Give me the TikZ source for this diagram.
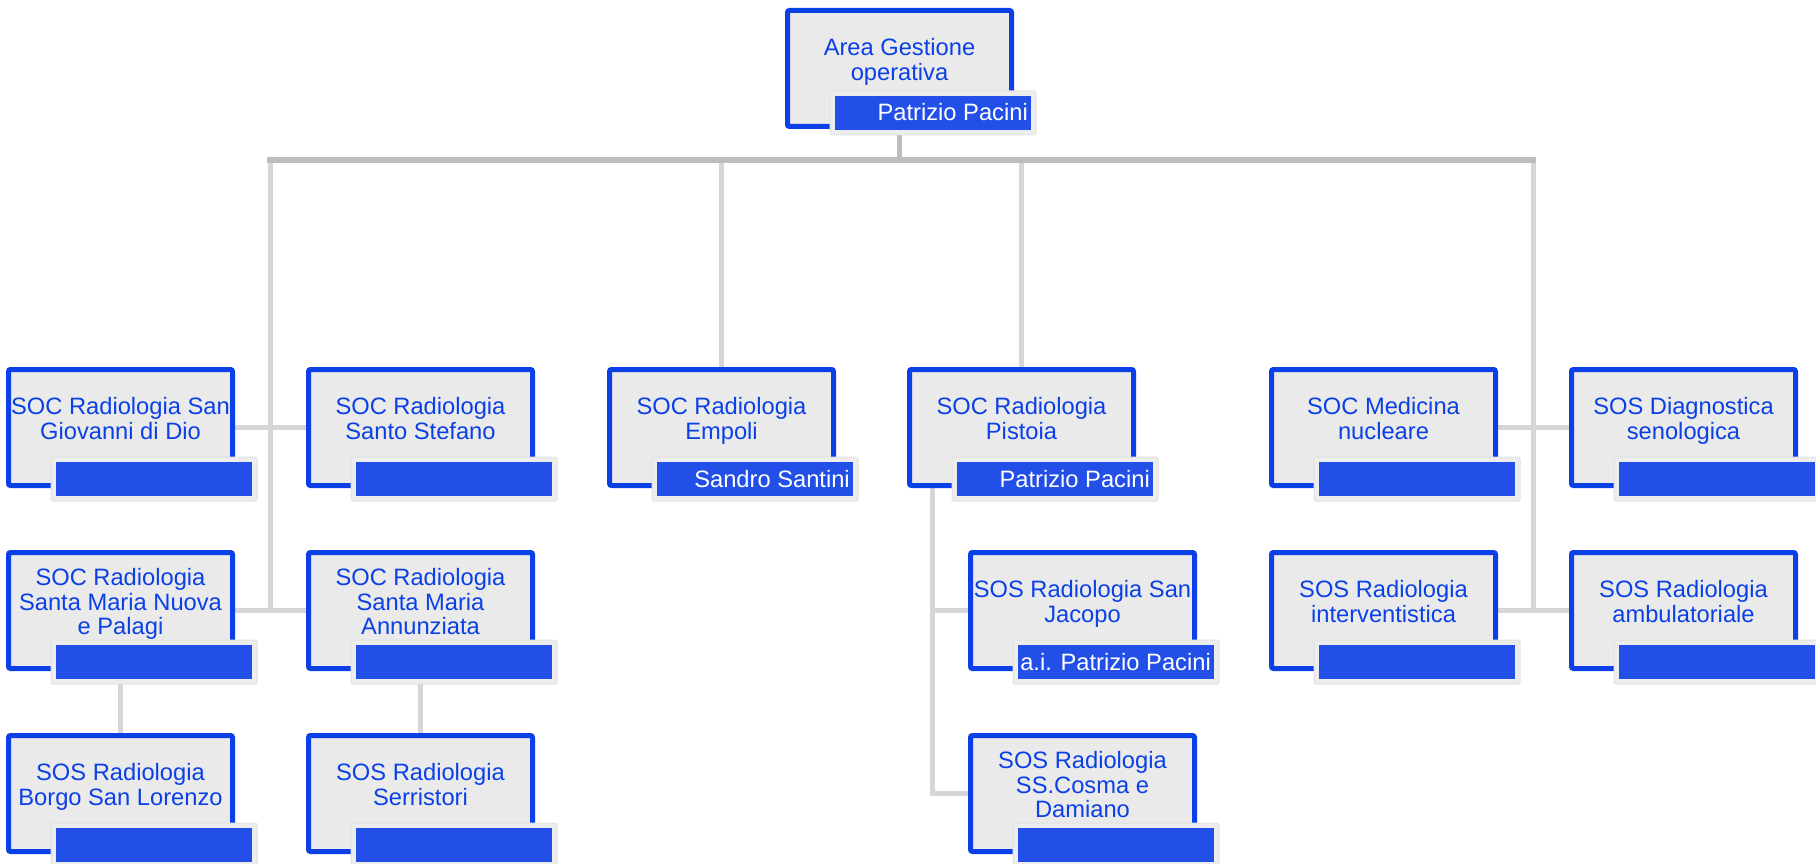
\documentclass[tikz,border=0pt]{standalone}
\usepackage{fontspec}
\setmainfont{Liberation Sans}
\usetikzlibrary{backgrounds,calc}
\definecolor{ublue}{HTML}{0A40E6}
\definecolor{barblue}{HTML}{0036E7}
\definecolor{ufill}{HTML}{EAEAEA}
\definecolor{uframe}{HTML}{EDEDED}
\definecolor{uframeline}{HTML}{E2E2E2}
\definecolor{busgray}{HTML}{BDBDBD}
\definecolor{linkgray}{HTML}{D6D6D6}
\newcommand\ls{\rule[-7pt]{0pt}{24.5pt}}
% name, left, top, text, person, frame offset
\newcommand\orgunit[6]{%
  \node[ubox] (#1) at (#2+114.5,#3+60.5) {};
  \node[utext] (#1-t) at (#2+114.5,#3+54.75) {#4};
  \node[uframebox] (#1-f) at (#2+148,#3+#6+22) {};
  \node[ubar] (#1-b) at (#2+148,#3+#6+22) {};
  \node[uname] (#1-p) at (#2+243,#3+#6+30) {#5};
}
\begin{document}
\begin{tikzpicture}[x=1pt,y=-1pt,
  ubox/.style={draw=ublue, line width=5pt, fill=ufill, rounded corners=2pt,
    minimum width=224pt, minimum height=116pt, inner sep=0pt},
  utext/.style={text=ublue, align=center, font=\fontsize{23.7}{24.5}\selectfont, inner sep=0pt},
  uframebox/.style={fill=uframe, draw=uframeline, line width=1pt, rounded corners=2pt,
    minimum width=206pt, minimum height=44pt, inner sep=0pt},
  ubar/.style={fill=barblue, fill opacity=0.86, minimum width=196pt, minimum height=34pt, inner sep=0pt},
  uname/.style={text=white, font=\fontsize{23.7}{24.5}\selectfont, inner sep=0pt, anchor=base east},
  bus/.style={draw=busgray, line width=5.5pt, line cap=rect},
  link/.style={draw=linkgray, line width=5pt, line cap=rect},
]
\useasboundingbox (0,0) rectangle (1816,864);

\orgunit{top}{785}{8}{\ls Area Gestione\\\ls operativa}{Patrizio Pacini}{83}

\orgunit{sgd}{6}{367}{\ls SOC Radiologia San\\\ls Giovanni di Dio}{}{90}
\orgunit{ss}{306}{367}{\ls SOC Radiologia\\\ls Santo Stefano}{}{90}
\orgunit{smn}{6}{550}{\ls SOC Radiologia\\\ls Santa Maria Nuova\\\ls e Palagi}{}{90}
\orgunit{sma}{306}{550}{\ls SOC Radiologia\\\ls Santa Maria\\\ls Annunziata}{}{90}
\orgunit{bsl}{6}{733}{\ls SOS Radiologia\\\ls Borgo San Lorenzo}{}{90}
\orgunit{ser}{306}{733}{\ls SOS Radiologia\\\ls Serristori}{}{90}

\orgunit{emp}{607}{367}{\ls SOC Radiologia\\\ls Empoli}{Sandro Santini}{90}

\orgunit{pis}{907}{367}{\ls SOC Radiologia\\\ls Pistoia}{Patrizio Pacini}{90}
\orgunit{sjac}{968}{550}{\ls SOS Radiologia San\\\ls Jacopo}{a.i. Patrizio Pacini}{90}
\orgunit{cos}{968}{733}{\ls SOS Radiologia\\\ls SS.Cosma e\\\ls Damiano}{}{90}

\orgunit{med}{1269}{367}{\ls SOC Medicina\\\ls nucleare}{}{90}
\orgunit{sds}{1569}{367}{\ls SOS Diagnostica\\\ls senologica}{}{90}
\orgunit{sri}{1269}{550}{\ls SOS Radiologia\\\ls interventistica}{}{90}
\orgunit{samb}{1569}{550}{\ls SOS Radiologia\\\ls ambulatoriale}{}{90}

\begin{scope}[on background layer]
  \coordinate (busL) at (270,160);
  \coordinate (busR) at (1533,160);
  \coordinate (pbr) at ([xshift=25pt]pis.south west);
  \draw[link] (busL) -- (busL |- smn.east);
  \draw[link] (busR) -- (busR |- sri.east);
  \draw[link] (emp.north |- busL) -- (emp.north);
  \draw[link] (pis.north |- busL) -- (pis.north);
  \draw[link] (sgd.east) -- (ss.west);
  \draw[link] (smn.east) -- (sma.west);
  \draw[link] (med.east) -- (sds.west);
  \draw[link] (sri.east) -- (samb.west);
  \draw[link] (smn-f.south -| smn.south) -- (bsl.north);
  \draw[link] (sma-f.south -| sma.south) -- (ser.north);
  \draw[link] (pbr) -- (pbr |- cos.west) -- (cos.west);
  \draw[link] (pbr |- sjac.west) -- (sjac.west);
  \draw[bus] (busL) -- (busR);
  \draw[bus] (top.south) -- (top.south |- busL);
\end{scope}
\end{tikzpicture}
\end{document}
